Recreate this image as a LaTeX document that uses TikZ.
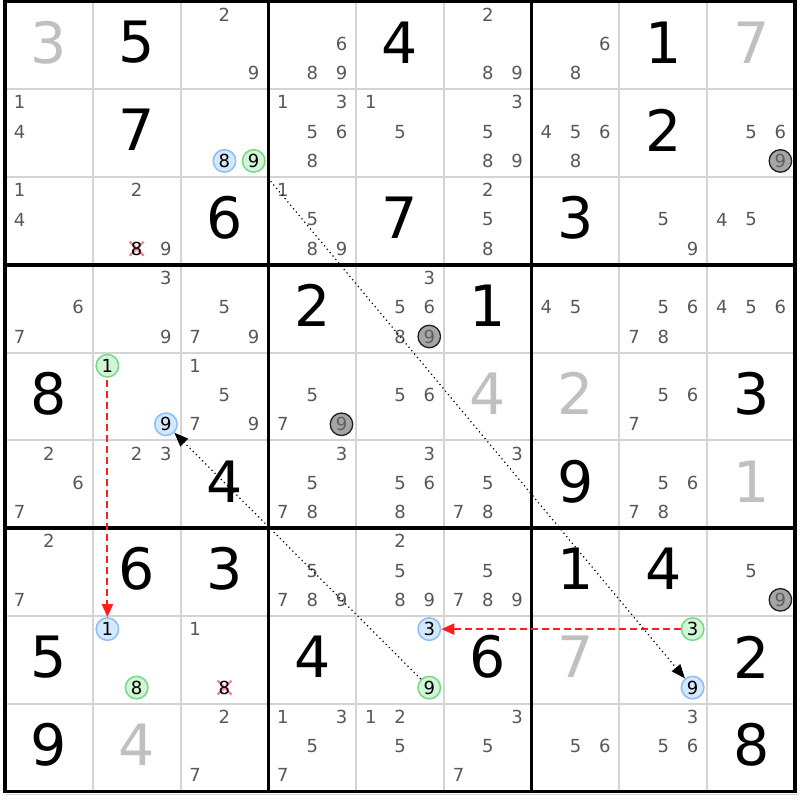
\documentclass[tikz,border=0pt]{standalone}
\usepackage{fontspec}
\setmainfont{DejaVu Sans}
\usetikzlibrary{arrows.meta}
\definecolor{candgray}{RGB}{88,88,88}
\definecolor{solgray}{RGB}{192,192,192}
\definecolor{thingrid}{RGB}{212,212,212}
\definecolor{bluefill}{RGB}{212,232,252}
\definecolor{blueline}{RGB}{140,190,245}
\definecolor{greenfill}{RGB}{210,245,215}
\definecolor{greenline}{RGB}{120,215,130}
\definecolor{grayfill}{RGB}{165,165,165}
\definecolor{grayline}{RGB}{30,30,30}
\definecolor{grytext}{RGB}{95,95,95}
\definecolor{arrred}{RGB}{255,30,30}
\definecolor{xpink}{RGB}{240,130,140}
\newcommand\candfont{\fontsize{18}{18}\selectfont}
\newcommand\bigfont{\fontsize{57}{57}\selectfont}
\newcommand\placecand[4]{%
  \pgfmathsetmacro\candx{5+(#3-0.5)*87.78+(mod(#4-1,3)-1)*29.26}%
  \pgfmathsetmacro\candy{1.5+(#2-0.5)*87.78+(floor((#4-1)/3)-1)*29.26-1.5}%
  \node[#1] (k#2#3#4) at (\candx,\candy) {#4};}
\newcommand\placecross[3]{%
  \pgfmathsetmacro\candx{5+(#2-0.5)*87.78+(mod(#3-1,3)-1)*29.26}%
  \pgfmathsetmacro\candy{1.5+(#1-0.5)*87.78+(floor((#3-1)/3)-1)*29.26-1.5}%
  \draw[xmark] (\candx-7,\candy-7) -- (\candx+7,\candy+7);
  \draw[xmark] (\candx-7,\candy+7) -- (\candx+7,\candy-7);
  \node[crosstxt] (k#1#2#3) at (\candx,\candy) {#3};}
\newcommand\placebig[4]{%
  \pgfmathsetmacro\candx{5+(#3-0.5)*87.78}%
  \pgfmathsetmacro\candy{1.5+(#2-0.5)*87.78-3}%
  \node[#1] (d#2#3) at (\candx,\candy) {#4};}
\tikzset{
  candtxt/.style={font=\candfont, text=candgray, inner sep=0pt},
  crosstxt/.style={font=\candfont, text=black, inner sep=0pt},
  givtxt/.style={font=\bigfont, text=black, inner sep=0pt},
  soltxt/.style={font=\bigfont, text=solgray, inner sep=0pt},
  hlbase/.style={circle, minimum size=22.5pt, inner sep=0pt, font=\candfont, text=black, line width=1.5pt},
  hlblue/.style={hlbase, fill=bluefill, draw=blueline},
  hlgreen/.style={hlbase, fill=greenfill, draw=greenline},
  hlgray/.style={hlbase, fill=grayfill, draw=grayline, text=grytext, line width=1.3pt},
  xmark/.style={draw=xpink, line width=2.2pt},
  thinline/.style={draw=thingrid, line width=2pt},
  thickline/.style={draw=black, line width=3.5pt},
  redarrow/.style={draw=arrred, line width=2pt, dash pattern=on 7pt off 4pt, -{Triangle[length=13pt,width=11pt]}},
  dotarrow/.style={draw=black, line width=1.2pt, dash pattern=on 1.2pt off 3.2pt, -{Triangle[length=14pt,width=11pt]}}
}
\begin{document}
\begin{tikzpicture}[x=1pt,y=-1pt]
\fill[white] (0,0) rectangle (800,800);
\useasboundingbox (0,0) rectangle (800,800);
% grid
\draw[gray!35, line width=1pt] (6,794) -- (797,794);
\foreach \i in {1,2,4,5,7,8} {
  \draw[thinline] ({5+\i*87.78},1.5) -- ({5+\i*87.78},791.5);
  \draw[thinline] (5,{1.5+\i*87.78}) -- (795,{1.5+\i*87.78});
}
\foreach \i in {3,6} {
  \draw[thickline] ({5+\i*87.78},1.5) -- ({5+\i*87.78},791.5);
  \draw[thickline] (5,{1.5+\i*87.78}) -- (795,{1.5+\i*87.78});
}
\draw[thickline] (5,1.5) rectangle (795,791.5);
% givens
\foreach \r/\c/\d in {1/2/5, 1/5/4, 1/8/1, 2/2/7, 2/8/2, 3/3/6, 3/5/7, 3/7/3,
  4/4/2, 4/6/1, 5/1/8, 5/9/3, 6/3/4, 6/7/9, 7/2/6, 7/3/3, 7/7/1, 7/8/4,
  8/1/5, 8/4/4, 8/6/6, 8/9/2, 9/1/9, 9/9/8}
  {\placebig{givtxt}{\r}{\c}{\d}}
% solved
\foreach \r/\c/\d in {1/1/3, 1/9/7, 5/6/4, 5/7/2, 6/9/1, 8/7/7, 9/2/4}
  {\placebig{soltxt}{\r}{\c}{\d}}
% candidates
\foreach \r/\c/\k in {1/3/2,1/3/9, 1/4/6,1/4/8,1/4/9, 1/6/2,1/6/8,1/6/9, 1/7/6,1/7/8,
  2/1/1,2/1/4, 2/4/1,2/4/3,2/4/5,2/4/6,2/4/8, 2/5/1,2/5/5, 2/6/3,2/6/5,2/6/8,2/6/9,
  2/7/4,2/7/5,2/7/6,2/7/8, 2/9/5,2/9/6,
  3/1/1,3/1/4, 3/2/2,3/2/9, 3/4/1,3/4/5,3/4/8,3/4/9, 3/6/2,3/6/5,3/6/8, 3/8/5,3/8/9, 3/9/4,3/9/5,
  4/1/6,4/1/7, 4/2/3,4/2/9, 4/3/5,4/3/7,4/3/9, 4/5/3,4/5/5,4/5/6,4/5/8, 4/7/4,4/7/5,
  4/8/5,4/8/6,4/8/7,4/8/8, 4/9/4,4/9/5,4/9/6,
  5/3/1,5/3/5,5/3/7,5/3/9, 5/4/5,5/4/7, 5/5/5,5/5/6, 5/8/5,5/8/6,5/8/7,
  6/1/2,6/1/6,6/1/7, 6/2/2,6/2/3, 6/4/3,6/4/5,6/4/7,6/4/8, 6/5/3,6/5/5,6/5/6,6/5/8,
  6/6/3,6/6/5,6/6/7,6/6/8, 6/8/5,6/8/6,6/8/7,6/8/8,
  7/1/2,7/1/7, 7/4/5,7/4/7,7/4/8,7/4/9, 7/5/2,7/5/5,7/5/8,7/5/9, 7/6/5,7/6/7,7/6/8,7/6/9, 7/9/5,
  8/3/1,
  9/3/2,9/3/7, 9/4/1,9/4/3,9/4/5,9/4/7, 9/5/1,9/5/2,9/5/5, 9/6/3,9/6/5,9/6/7,
  9/7/5,9/7/6, 9/8/3,9/8/5,9/8/6}
  {\placecand{candtxt}{\r}{\c}{\k}}
% eliminated
\placecross{3}{2}{8}
\placecross{8}{3}{8}
% highlighted
\placecand{hlblue}{2}{3}{8}
\placecand{hlgreen}{2}{3}{9}
\placecand{hlgray}{2}{9}{9}
\placecand{hlgray}{4}{5}{9}
\placecand{hlgreen}{5}{2}{1}
\placecand{hlblue}{5}{2}{9}
\placecand{hlgray}{5}{4}{9}
\placecand{hlgray}{7}{9}{9}
\placecand{hlblue}{8}{2}{1}
\placecand{hlgreen}{8}{2}{8}
\placecand{hlblue}{8}{5}{3}
\placecand{hlgreen}{8}{5}{9}
\placecand{hlgreen}{8}{8}{3}
\placecand{hlblue}{8}{8}{9}
% links
\draw[redarrow, shorten <=2pt] (k521) -- (k821);
\draw[redarrow] (k883) -- (k853);
\draw[dotarrow] (k859) -- (k529);
\draw[dotarrow, shorten <=10pt] (k239) -- (k889);
\end{tikzpicture}
\end{document}
